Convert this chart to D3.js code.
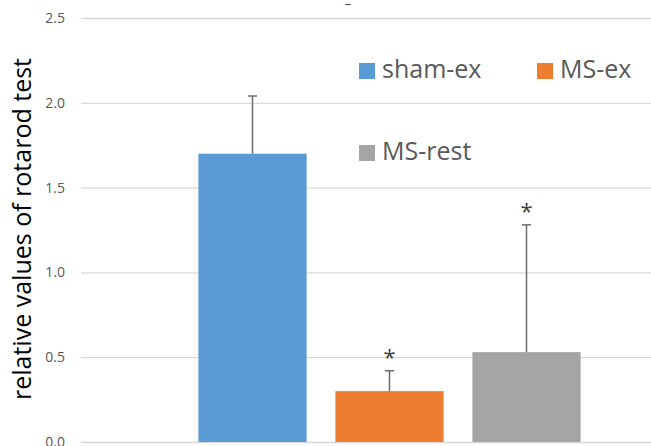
<!DOCTYPE html>
<html>
<head>
<meta charset="utf-8">
<script src="https://cdn.jsdelivr.net/npm/d3@7"></script>
<style>
body{margin:0;background:#fff;}
text{font-family:"Open Sans",sans-serif;}
</style>
</head>
<body>
<script>
// data
var groups=["sham-ex","MS-ex","MS-rest"];
var means=[1.70,0.30,0.53];
var errs=[0.34,0.12,0.75];
var marked=[false,true,true]; // significance star
var colors=["#5b9bd5","#ed7d31","#a5a5a5"];
var ticks=[0,0.5,1.0,1.5,2.0,2.5];

var w=651,h=446;
var svg=d3.select("body").append("svg")
	.attr("width",w)
	.attr("height",h);

var y=d3.scaleLinear()
	.domain([0,2.5])
	.range([442,18]);

var x=d3.scaleBand()
	.domain(groups)
	.range([184,595])
	.paddingInner(0.21)
	.paddingOuter(0.105);

//gridlines + tick labels
var yAxis=d3.axisLeft(y)
	.tickValues(ticks)
	.tickFormat(d3.format(".1f"))
	.tickSize(-(w-81))
	.tickPadding(16);

var axis=svg.append("g")
	.attr("transform","translate(81,0)")
	.call(yAxis);
axis.select(".domain").remove();
axis.selectAll(".tick line").attr("stroke","#d9d9d9").attr("stroke-width",1.3);
axis.selectAll(".tick text")
	.attr("fill","#595959")
	.style("font-size","14px");

var data=groups.map(function(g,i){
	return {name:g,mean:means[i],err:errs[i],star:marked[i],color:colors[i]};
});

svg.selectAll(".bar")
	.data(data)
	.enter()
	.append("rect")
	.attr("class","bar")
	.attr("x",function(d){return x(d.name);})
	.attr("width",x.bandwidth())
	.attr("y",function(d){return y(d.mean);})
	.attr("height",function(d){return y(0)-y(d.mean);})
	.style("fill",function(d){return d.color;});

//error bars (upper only)
var eb=svg.selectAll(".err")
	.data(data)
	.enter()
	.append("g")
	.attr("class","err")
	.attr("stroke","#6b6b6b")
	.attr("stroke-width",1.5);
eb.append("line")
	.attr("x1",function(d){return x(d.name)+x.bandwidth()/2;})
	.attr("x2",function(d){return x(d.name)+x.bandwidth()/2;})
	.attr("y1",function(d){return y(d.mean);})
	.attr("y2",function(d){return y(d.mean+d.err);});
eb.append("line")
	.attr("x1",function(d){return x(d.name)+x.bandwidth()/2-4.5;})
	.attr("x2",function(d){return x(d.name)+x.bandwidth()/2+4.5;})
	.attr("y1",function(d){return y(d.mean+d.err);})
	.attr("y2",function(d){return y(d.mean+d.err);});

svg.selectAll(".star")
	.data(data.filter(function(d){return d.star;}))
	.enter()
	.append("text")
	.attr("class","star")
	.attr("text-anchor","middle")
	.attr("x",function(d){return x(d.name)+x.bandwidth()/2;})
	.attr("y",function(d){return y(d.mean+d.err)-6;})
	.attr("fill","#404040")
	.style("font-size","22px")
	.text("*");

//legend
var legPos=[[359,78],[537,78],[359,160]];
var leg=svg.selectAll(".leg")
	.data(data)
	.enter()
	.append("g")
	.attr("class","leg")
	.attr("transform",function(d,i){return "translate("+legPos[i][0]+","+legPos[i][1]+")";});
leg.append("rect")
	.attr("y",-15)
	.attr("width",16)
	.attr("height",16)
	.style("fill",function(d){return d.color;});
leg.append("text")
	.attr("x",23)
	.attr("fill","#595959")
	.style("font-size","25px")
	.text(function(d){return d.name;});

//y axis title
svg.append("text")
	.attr("transform","translate(31,229) rotate(-90)")
	.attr("text-anchor","middle")
	.attr("fill","#000")
	.style("font-size","25px")
	.text("relative values of rotarod test");

//cut-off title remnant at the top
svg.append("text")
	.attr("x",348)
	.attr("y",9)
	.attr("text-anchor","middle")
	.attr("fill","#595959")
	.style("font-size","14px")
	.text("–");
</script>
</body>
</html>
